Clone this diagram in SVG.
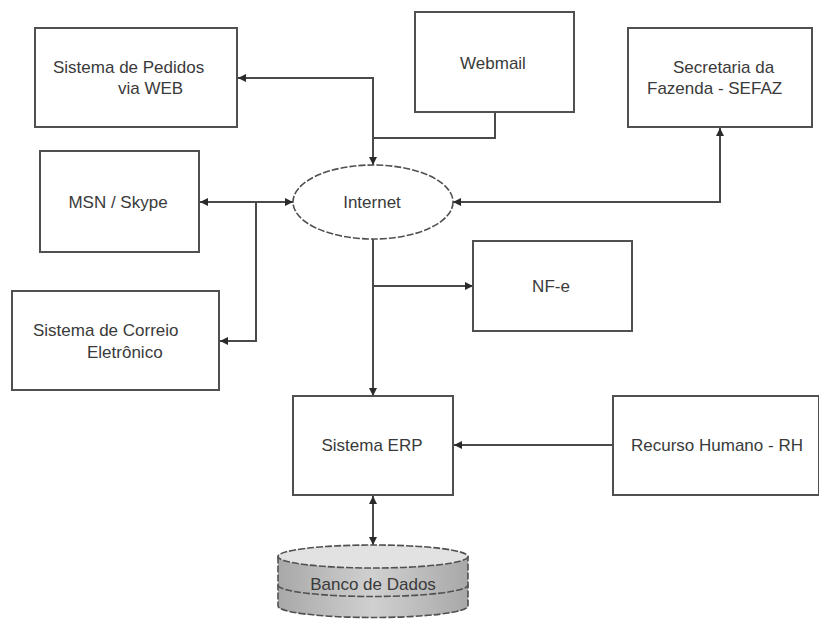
<svg xmlns="http://www.w3.org/2000/svg" width="819" height="621" viewBox="0 0 819 621">
  <defs>
    <style>
      .box { fill: #ffffff; stroke: #505050; stroke-width: 2; }
      .lbl { font-family: "Liberation Sans", Arial, sans-serif; font-size: 17px; fill: #3a3a3a; }
      .mid { text-anchor: middle; }
      .con { fill: none; stroke: #4a4a4a; stroke-width: 2; }
      .dash { stroke: #505050; stroke-width: 1.6; stroke-dasharray: 7 2; }
    </style>
    <marker id="arr" viewBox="0 0 8 8" refX="8" refY="4" markerWidth="8" markerHeight="8" markerUnits="userSpaceOnUse" orient="auto-start-reverse">
      <path d="M0,0 L8,4 L0,8 z" fill="#2a2a2a"/>
    </marker>
    <linearGradient id="side" x1="0" y1="0" x2="1" y2="0">
      <stop offset="0" stop-color="#a8a8a8"/>
      <stop offset="0.5" stop-color="#d0d0d0"/>
      <stop offset="1" stop-color="#a8a8a8"/>
    </linearGradient>
  </defs>
  <rect width="819" height="621" fill="#ffffff"/>

  <g id="connectors">
    <path class="con" d="M373,165 V78 H238" marker-start="url(#arr)" marker-end="url(#arr)"/>
    <path class="con" d="M495,112 V138 H373"/>
    <path class="con" d="M453,202 H720 V128" marker-start="url(#arr)" marker-end="url(#arr)"/>
    <path class="con" d="M200,202 H293" marker-start="url(#arr)" marker-end="url(#arr)"/>
    <path class="con" d="M256,202 V341 H220" marker-end="url(#arr)"/>
    <path class="con" d="M373,239 V396" marker-end="url(#arr)"/>
    <path class="con" d="M373,286 H473" marker-end="url(#arr)"/>
    <path class="con" d="M613,445 H454" marker-end="url(#arr)"/>
    <path class="con" d="M373,496 V545" marker-start="url(#arr)" marker-end="url(#arr)"/>
  </g>

  <g id="pedidos">
    <rect class="box" x="35" y="28" width="202" height="99"/>
    <text class="lbl" x="53" y="73">Sistema de Pedidos</text>
    <text class="lbl" x="118" y="94">via WEB</text>
  </g>

  <g id="webmail">
    <rect class="box" x="415" y="12" width="159" height="100"/>
    <text class="lbl mid" x="493" y="69">Webmail</text>
  </g>

  <g id="sefaz">
    <rect class="box" x="628" y="28" width="184" height="99"/>
    <text class="lbl" x="673" y="73">Secretaria da</text>
    <text class="lbl" x="647" y="94">Fazenda - SEFAZ</text>
  </g>

  <g id="msn">
    <rect class="box" x="40" y="151" width="159" height="101"/>
    <text class="lbl mid" x="118" y="208">MSN / Skype</text>
  </g>

  <g id="internet">
    <ellipse cx="373" cy="202" rx="80" ry="37" fill="#ffffff" class="dash"/>
    <text class="lbl mid" x="372" y="208">Internet</text>
  </g>

  <g id="nfe">
    <rect class="box" x="473" y="241" width="159" height="90"/>
    <text class="lbl mid" x="551" y="292">NF-e</text>
  </g>

  <g id="correio">
    <rect class="box" x="12" y="291" width="207" height="99"/>
    <text class="lbl" x="33" y="336">Sistema de Correio</text>
    <text class="lbl" x="87" y="358">Eletrônico</text>
  </g>

  <g id="erp">
    <rect class="box" x="293" y="396" width="160" height="99"/>
    <text class="lbl mid" x="372" y="451">Sistema ERP</text>
  </g>

  <g id="rh">
    <rect class="box" x="613" y="396" width="206" height="99"/>
    <text class="lbl" x="631" y="451">Recurso Humano - RH</text>
  </g>

  <g id="banco">
    <path d="M278,556.5 V606 A95,11.5 0 0 0 468,606 V556.5 Z" fill="url(#side)" class="dash"/>
    <path d="M278,585 A95,11.5 0 0 0 468,585" fill="none" class="dash"/>
    <ellipse cx="373" cy="556.5" rx="95" ry="11.5" fill="#e2e2e2" class="dash"/>
    <text class="lbl mid" x="373" y="590">Banco de Dados</text>
  </g>
</svg>
